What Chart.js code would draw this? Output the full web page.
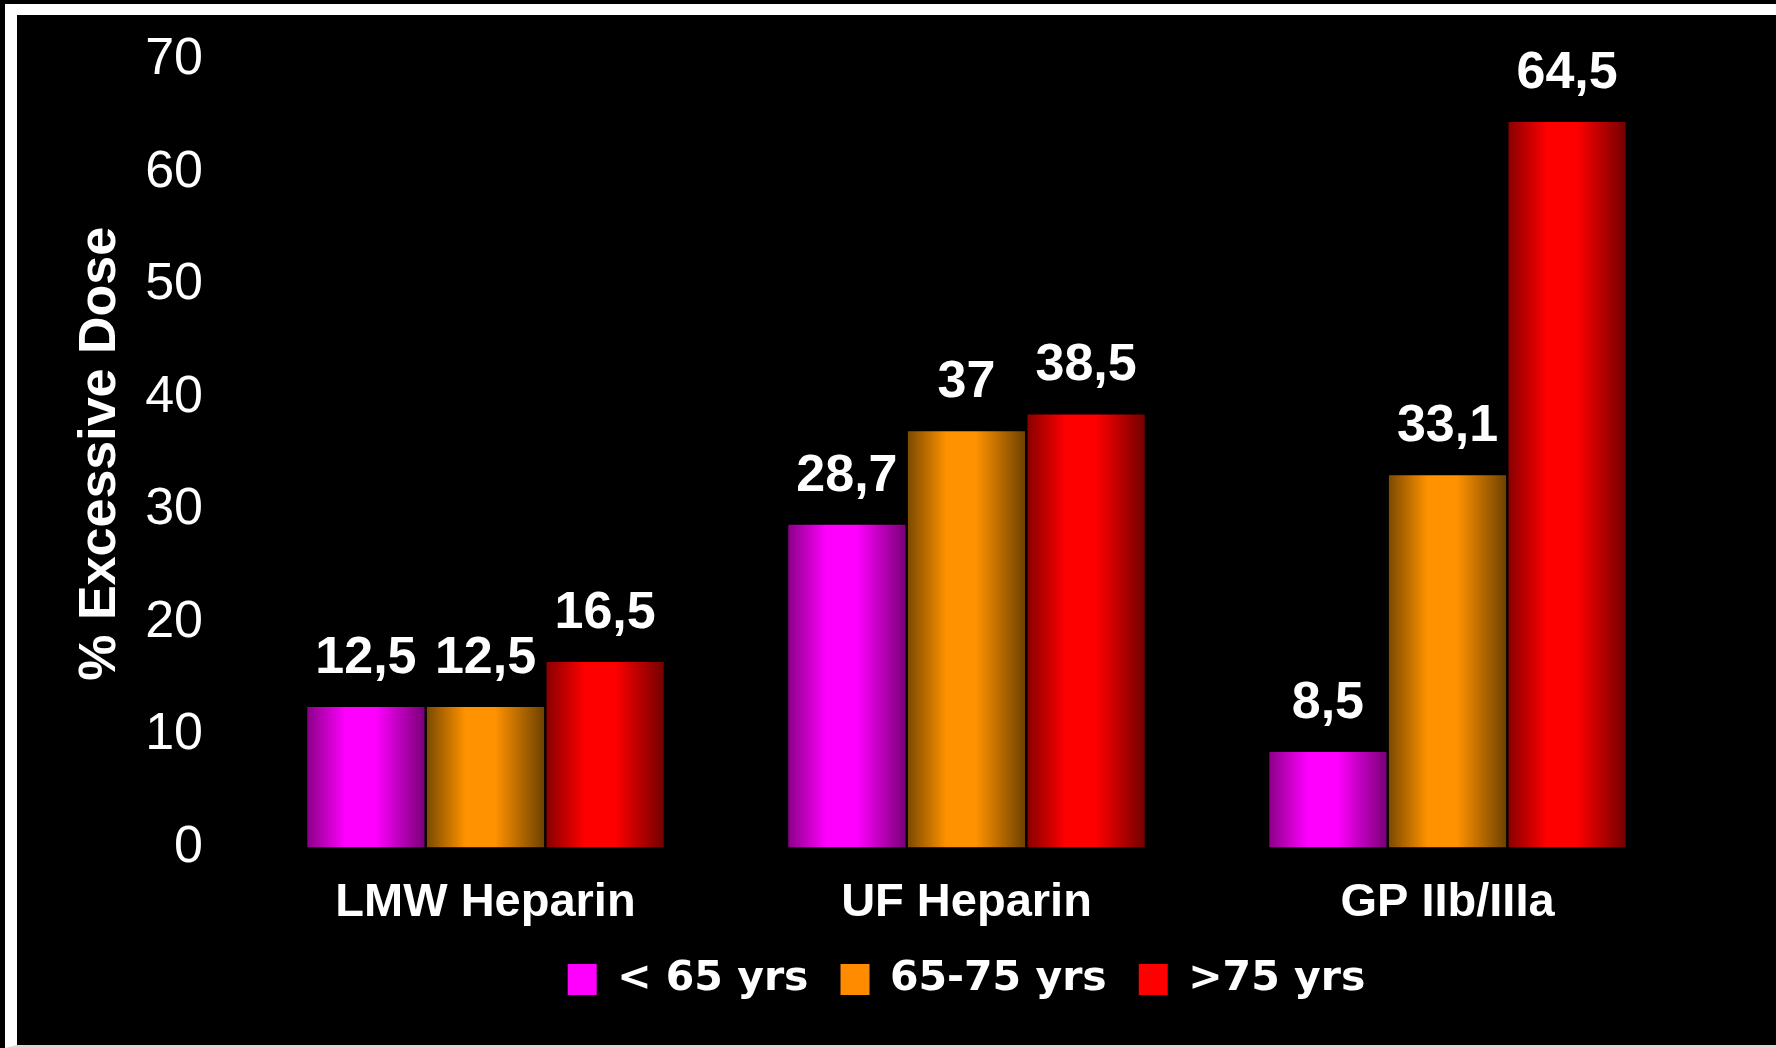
<!DOCTYPE html>
<html>
<head>
<meta charset="utf-8">
<script src="https://cdn.jsdelivr.net/npm/chart.js@4.4.7/dist/chart.umd.js"></script>
<style>
  html, body { margin: 0; padding: 0; background: #000; }
  body { width: 1776px; height: 1048px; overflow: hidden; position: relative; }
  /* white slide frame: top and left heavy, thin grey bottom */
  #frame {
    position: absolute; left: 5px; top: 4px; width: 1771px; height: 1044px;
    box-sizing: border-box; background: #000;
    border-top: 11px solid #fff; border-left: 12px solid #fff; border-bottom: 3px solid #d8d8d8;
  }
  #wrap { position: absolute; left: 17px; top: 15px; width: 1759px; height: 1030px; }
</style>
</head>
<body>
<div id="frame"></div>
<div id="wrap"><canvas id="chart"></canvas></div>
<script>
// data
const categories = ["LMW Heparin", "UF Heparin", "GP IIb/IIIa"];
const seriesNames = ["< 65 yrs", "65-75 yrs", ">75 yrs"];
const under65 = [12.5, 28.7, 8.5];
const from65to75 = [12.5, 37, 33.1];
const over75 = [16.5, 38.5, 64.5];
const yMin = 0;
const yMax = 70;
const yStep = 10;

// solid colour (legend) and shading for the bar cylinders
const solid = ["#ff00ff", "#ff8c00", "#ff0000"];
const shades = [
  ["#8c0088", "#ff00ff", "#ff00ff", "#7a0078"],
  ["#7c4a00", "#ff9200", "#ff9200", "#6e4200"],
  ["#8a0000", "#ff0000", "#ff0000", "#740000"],
];

const FONT = "'Liberation Sans', Arial, sans-serif";

// fill each bar with a horizontal gradient so it looks shaded
const shadeBars = {
  id: "shadeBars",
  beforeDatasetsDraw(chart) {
    const ctx = chart.ctx;
    chart.data.datasets.forEach((ds, di) => {
      const meta = chart.getDatasetMeta(di);
      const s = shades[di];
      meta.data.forEach((bar) => {
        const g = ctx.createLinearGradient(bar.x - bar.width / 2, 0, bar.x + bar.width / 2, 0);
        g.addColorStop(0, s[0]);
        g.addColorStop(0.33, s[1]);
        g.addColorStop(0.58, s[2]);
        g.addColorStop(1, s[3]);
        bar.options = Object.assign({}, bar.options, { backgroundColor: g });
      });
    });
  },
};

// value labels above bars, decimal comma
const valueLabels = {
  id: "valueLabels",
  afterDatasetsDraw(chart) {
    const ctx = chart.ctx;
    ctx.save();
    ctx.fillStyle = "#fff";
    ctx.font = "bold 52px " + FONT;
    ctx.textAlign = "center";
    ctx.textBaseline = "alphabetic";
    chart.data.datasets.forEach((ds, di) => {
      const meta = chart.getDatasetMeta(di);
      meta.data.forEach((bar, i) => {
        const txt = String(ds.data[i]).replace(".", ",");
        ctx.fillText(txt, bar.x, bar.y - 34);
      });
    });
    ctx.restore();
  },
};

// legend padding is also the gap between items; pull the legend row
// closer to the axis labels without losing that horizontal gap
const legendPull = 31;
const tightLegend = {
  id: "tightLegend",
  beforeLayout(chart) {
    const lg = chart.legend;
    if (lg && !lg.$tight) {
      const fit = lg.fit;
      lg.fit = function () {
        fit.call(this);
        this.height -= legendPull;
      };
      lg.$tight = true;
    }
  },
  afterLayout(chart) {
    if (chart.legend) {
      chart.legend.top -= legendPull;
    }
  },
};

const seriesData = [under65, from65to75, over75];

new Chart(document.getElementById("chart"), {
  type: "bar",
  data: {
    labels: categories,
    datasets: seriesNames.map((name, i) => ({
      label: name,
      data: seriesData[i],
      backgroundColor: solid[i],
      borderWidth: 0,
      categoryPercentage: 0.746,
      barPercentage: 0.98,
    })),
  },
  options: {
    responsive: true,
    maintainAspectRatio: false,
    animation: false,
    layout: { padding: { left: 0, right: 88, top: 45, bottom: 35 } },
    plugins: {
      tooltip: { enabled: false },
      legend: {
        position: "bottom",
        fullSize: false,
        labels: {
          color: "#fff",
          font: { family: "'DejaVu Sans', " + FONT, size: 41, weight: "bold" },
          boxWidth: 29,
          boxHeight: 31,
          padding: 32,
        },
      },
    },
    scales: {
      x: {
        grid: { display: false, drawTicks: false },
        border: { display: false },
        ticks: {
          color: "#fff",
          padding: 27,
          font: { family: FONT, size: 47, weight: "bold" },
        },
      },
      y: {
        min: yMin,
        max: yMax,
        // invisible tick marks give the gap between labels and bars
        grid: { display: false, drawTicks: true, tickLength: 39 },
        border: { display: false },
        ticks: {
          stepSize: yStep,
          color: "#fff",
          padding: 3,
          font: { family: FONT, size: 52 },
        },
        title: {
          display: true,
          text: "% Excessive Dose",
          color: "#fff",
          padding: { top: 52, bottom: 0 },
          font: { family: FONT, size: 52, weight: "bold" },
        },
        afterFit(scale) {
          scale.width = 228;
        },
      },
    },
  },
  plugins: [shadeBars, valueLabels, tightLegend],
});
</script>
</body>
</html>
